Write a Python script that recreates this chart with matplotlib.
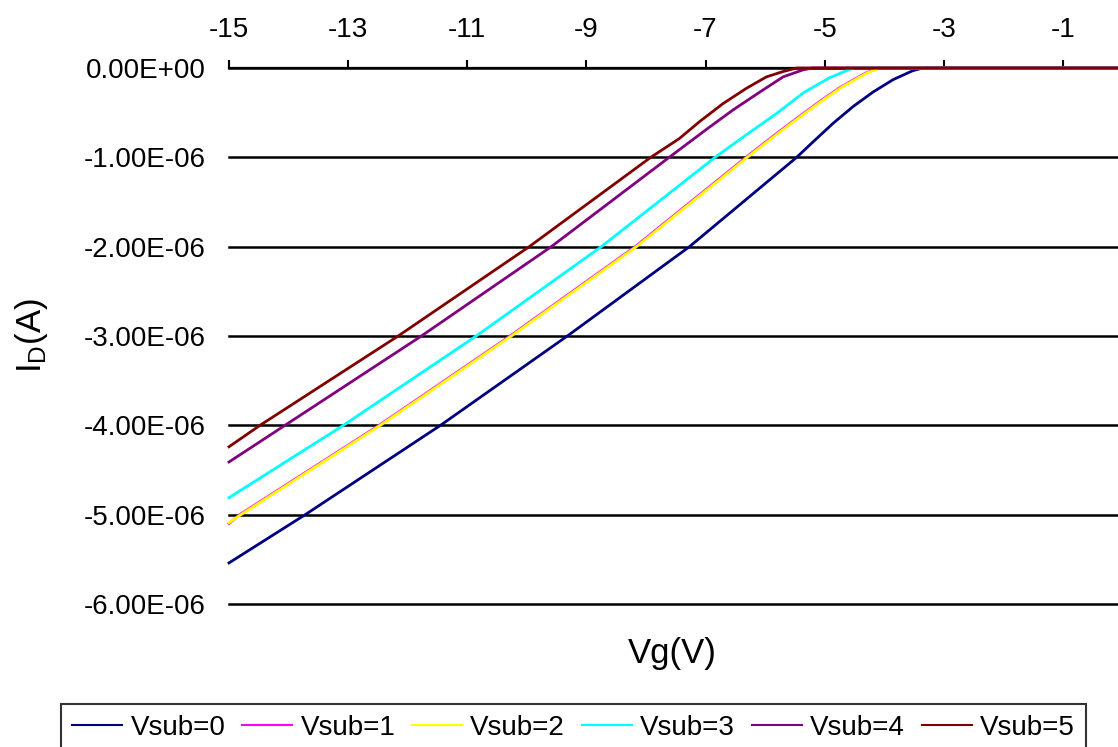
import numpy as np
import matplotlib
matplotlib.use("Agg")
import matplotlib.pyplot as plt

plt.rcParams['font.family'] = ['Liberation Sans', 'DejaVu Sans']
plt.rcParams['mathtext.default'] = 'regular'

# ---- data (Vg in V, drain current in microamps) ----
vg_0 = [-15, -13.72, -11.45, -9.32, -7.27, -5.47, -5.20, -4.86, -4.52, -4.19, -3.85, -3.52, -3.35, 0]
id_0 = [-5.54, -5.0, -4.0, -3.0, -2.0, -1.0, -0.83, -0.62, -0.43, -0.27, -0.13, -0.03, 0.0, 0.0]

vg_1 = [-15, -14.82, -12.48, -10.28, -8.18, -6.32, -5.78, -5.44, -5.05, -4.72, -4.32, -4.10, 0]
id_1 = [-5.10, -5.0, -4.0, -3.0, -2.0, -1.0, -0.72, -0.55, -0.36, -0.21, -0.06, 0.0, 0.0]

vg_2 = [-15, -14.8, -12.46, -10.26, -8.16, -6.30, -5.76, -5.42, -5.03, -4.70, -4.30, -4.08, 0]
id_2 = [-5.09, -5.0, -4.0, -3.0, -2.0, -1.0, -0.72, -0.55, -0.36, -0.21, -0.06, 0.0, 0.0]

vg_3 = [-15, -13.08, -10.85, -8.75, -6.84, -6.32, -5.81, -5.34, -4.92, -4.60, -4.50, 0]
id_3 = [-4.81, -4.0, -3.0, -2.0, -1.0, -0.75, -0.51, -0.27, -0.11, -0.02, 0.0, 0.0]

vg_4 = [-15, -14.06, -11.77, -9.59, -7.61, -6.99, -6.54, -6.09, -5.70, -5.36, -5.20, 0]
id_4 = [-4.41, -4.0, -3.0, -2.0, -1.0, -0.69, -0.47, -0.27, -0.10, -0.02, 0.0, 0.0]

vg_5 = [-15, -14.48, -12.16, -9.96, -7.92, -7.44, -7.10, -6.71, -6.32, -5.98, -5.70, -5.47, 0]
id_5 = [-4.24, -4.0, -3.0, -2.0, -1.0, -0.79, -0.60, -0.40, -0.23, -0.10, -0.04, 0.0, 0.0]

series_names = ['Vsub=0', 'Vsub=1', 'Vsub=2', 'Vsub=3', 'Vsub=4', 'Vsub=5']
series_colors = ['#000080', '#FF00FF', '#FFFF00', '#00FFFF', '#800080', '#800000']

x_ticks = [-15, -13, -11, -9, -7, -5, -3, -1]
x_ticklabels = ['-15', '-13', '-11', '-9', '-7', '-5', '-3', '-1']
y_ticks = [0, -1e-6, -2e-6, -3e-6, -4e-6, -5e-6, -6e-6]
y_ticklabels = ['0.00E+00', '-1.00E-06', '-2.00E-06', '-3.00E-06',
                '-4.00E-06', '-5.00E-06', '-6.00E-06']

vgs = [vg_0, vg_1, vg_2, vg_3, vg_4, vg_5]
ids = [id_0, id_1, id_2, id_3, id_4, id_5]

fig = plt.figure(figsize=(11.18, 7.47), dpi=100)
ax = fig.add_axes([229 / 1118, 1 - 604 / 747, 893.5 / 1118, 536 / 747])

for vg, i_d, name, col in zip(vgs, ids, series_names, series_colors):
    ax.plot(vg, np.array(i_d) * 1e-6, color=col, lw=2.0, label=name,
            zorder=3, clip_on=False, solid_joinstyle='round')

ax.set_xlim(-15, 0)
ax.set_ylim(-6e-6, 0)

for s in ['left', 'right', 'bottom']:
    ax.spines[s].set_visible(False)
ax.spines['top'].set_linewidth(1.6)
ax.spines['top'].set_color('black')

ax.xaxis.tick_top()
ax.set_xticks(x_ticks)
ax.set_xticklabels(x_ticklabels, fontsize=20)
ax.tick_params(axis='x', direction='out', length=6, width=1.5, pad=12)

ax.set_yticks(y_ticks)
ax.set_yticklabels(y_ticklabels, fontsize=20)
ax.tick_params(axis='y', length=0, pad=17)
ax.yaxis.grid(True, color='black', lw=1.8, zorder=1)
for gl in ax.get_ygridlines():
    gl.set_clip_on(False)
ax.set_axisbelow(True)

ax.xaxis.set_label_position('bottom')
ax.set_xlabel('Vg(V)', fontsize=25)
ax.xaxis.set_label_coords(0.496, -0.062)
ax.set_ylabel('I$_D$(A)', fontsize=25)
ax.yaxis.set_label_coords(-0.2, 0.5)

leg = fig.legend(loc='upper center', bbox_to_anchor=(573.5 / 1118, 1 - 704 / 747),
                 ncol=6, fontsize=20, frameon=True, fancybox=False,
                 handlelength=1.8, handletextpad=0.3, columnspacing=0.6,
                 borderpad=0.4, borderaxespad=0)
leg.get_frame().set_edgecolor('black')
leg.get_frame().set_linewidth(1.5)
for h in leg.get_lines():
    h.set_linewidth(1.5)

fig.savefig('out.png', dpi=100, facecolor='white')
